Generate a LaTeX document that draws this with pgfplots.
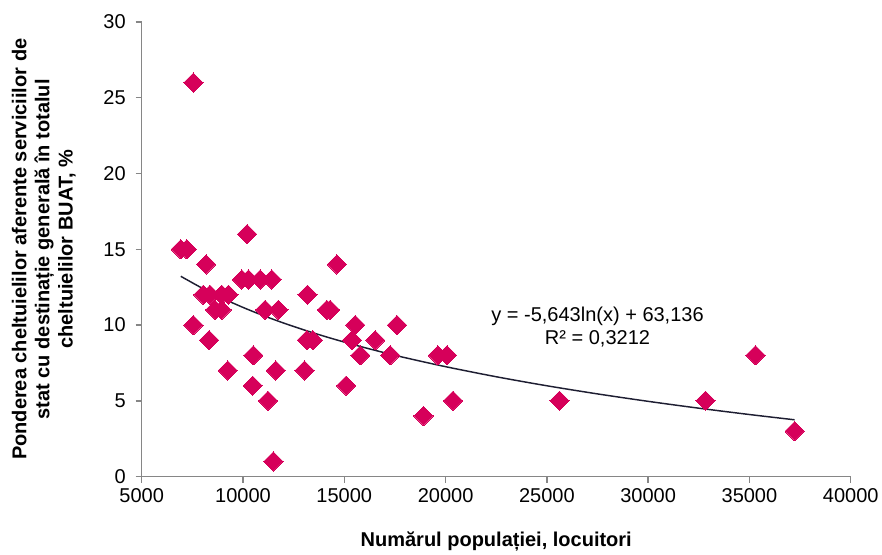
\documentclass[border=0pt]{standalone}
\usepackage{fontspec}
\setmainfont{Liberation Sans}
\usepackage{pgfplots}
\pgfplotsset{compat=1.18}
\definecolor{pts}{RGB}{214,0,90}
\definecolor{axgray}{RGB}{134,134,134}
\definecolor{trend}{RGB}{30,30,50}

\begin{document}
\begin{tikzpicture}
\begin{axis}[
name=ax,
scale only axis,
width=531.75pt, height=340.9pt,
xmin=5000, xmax=40000,
ymin=0, ymax=30,
xtick={5000,10000,...,40000},
ytick={0,5,...,30},
scaled x ticks=false,
axis x line*=bottom,
axis y line*=left,
axis line style={axgray, line width=1.1pt, -},
tick style={axgray, line width=1.1pt},
tick align=outside,
major tick length=4.5pt,
/pgf/number format/assume math mode=true,
/pgf/number format/1000 sep={},
ticklabel style={font=\fontsize{15}{17}\selectfont},
xticklabel style={yshift=-1pt},
yticklabel style={xshift=-4pt},
xlabel={\textbf{Numărul populației, locuitori}},
xlabel style={font=\fontsize{15}{17}\selectfont, yshift=-15pt},
ylabel={\textbf{Ponderea cheltuielilor aferente serviciilor de}\\\textbf{stat cu destinație generală în totalul}\\\textbf{cheltuielilor BUAT, \%}},
ylabel style={font=\fontsize{15}{17.3}\selectfont, align=center, yshift=14pt},
clip=false,
]
\addplot[only marks, mark=square*, mark size=5.1pt,
  mark options={rotate=45, fill=pts, draw=pts, line width=0pt}]
coordinates {
(6930,15) (7220,15) (7550,26) (8180,14) (10200,16) (14630,14)
(9940,13) (10270,13) (10850,13) (11420,13)
(8040,12) (8370,12) (8950,12) (9280,12) (13180,12)
(8620,11) (8950,11) (11090,11) (11750,11) (14140,11) (14300,11)
(7550,10) (15540,10) (17600,10)
(8330,9) (13150,9) (13450,9) (15380,9) (16530,9)
(10510,8) (15790,8) (17270,8) (19620,8) (20070,8) (35300,8)
(9250,7) (11620,7) (13040,7)
(10480,6) (15090,6)
(11230,5) (20370,5) (25620,5) (32830,5)
(18910,4) (37230,3) (11500,1)
};
\addplot[trend, line width=1.1pt, smooth] coordinates {
(6930,13.215) (8000,12.421) (9000,11.757) (10000,11.162) (11000,10.624)
(12000,10.133) (13000,9.682) (14000,9.263) (15000,8.874) (16000,8.510)
(17000,8.168) (18000,7.845) (20000,7.251) (22500,6.586) (25000,5.991)
(27500,5.454) (30000,4.963) (32500,4.511) (35000,4.093) (37230,3.745)
};
\node[align=center, font=\fontsize{15}{17.5}\selectfont] at (axis cs:27500,9.85)
  {y = -5,643ln(x) + 63,136\\R² = 0,3212};
\end{axis}
\pgfresetboundingbox
\path[use as bounding box] (ax.south west) ++(-106.3pt,-58.1pt) rectangle ([shift={(555.2pt,357.4pt)}]ax.south west);
\end{tikzpicture}
\end{document}
